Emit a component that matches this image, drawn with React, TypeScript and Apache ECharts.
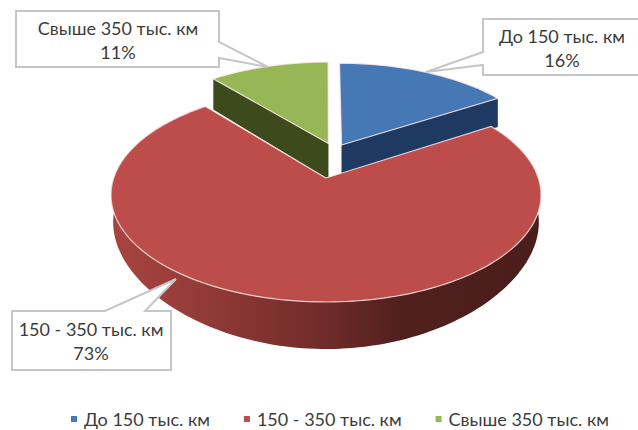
import React, { useEffect, useRef } from "react";
import * as echarts from "echarts";

// Пробег автомобилей: доли групп, %
const categories = ["До 150 тыс. км", "150 - 350 тыс. км", "Свыше 350 тыс. км"];
const shares = [16, 73, 11];
const topColors = ["#4678b6", "#bd4d4a", "#97b655"];
const cutColors = ["#1f3a62", "#5a2320", "#3d4a1c"];

// Верхняя и нижняя грани диска в перспективе
const TOP = { cx: 326, cy: 195, rx: 215, ry: 107, tilt: -0.159 };
const BOTTOM = { cy: 233.3, ry: 115.7, tilt: -0.25, shrink: 0.99 };
// Смещение выдвинутых секторов в единицах радиуса и подрезка их стенок
const explode = [
  { x: 0.077, y: -0.333, extra: 3 },
  { x: 0, y: 0, extra: 0 },
  { x: 0.012, y: -0.35, extra: 10 },
];

const projectTop = (X: number, Y: number): [number, number] => {
  const d = 1 + TOP.tilt * Y;
  return [
    TOP.cx + (TOP.rx * X * Math.sqrt(1 - TOP.tilt * TOP.tilt)) / d,
    TOP.cy + (TOP.ry * (Y + TOP.tilt)) / (1 + TOP.tilt * Y),
  ];
};
const projectBottom = (X: number, Y: number): [number, number] => {
  const [x] = projectTop(X, Y);
  return [
    TOP.cx + (x - TOP.cx) * BOTTOM.shrink,
    BOTTOM.cy + (BOTTOM.ry * (Y + BOTTOM.tilt)) / (1 + BOTTOM.tilt * Y),
  ];
};

const total = shares.reduce((a, b) => a + b, 0);
const startOf = (i: number) =>
  (shares.slice(0, i).reduce((a, b) => a + b, 0) / total) * Math.PI * 2;

const rimPoint = (i: number, angle: number): [number, number] => [
  Math.sin(angle) + explode[i].x,
  -Math.cos(angle) + explode[i].y,
];

const renderSlice = (i: number) => (_params: any, api: any) => {
  const sweep = (api.value(0) / total) * Math.PI * 2;
  const a0 = startOf(i);
  const steps = Math.max(12, Math.round(sweep * 40));
  const rim: [number, number][] = [];
  for (let k = 0; k <= steps; k++) rim.push(rimPoint(i, a0 + (sweep * k) / steps));
  const apex: [number, number] = [explode[i].x, explode[i].y];
  const children: any[] = [];

  if (i === 1) {
    // Наружная стенка большого сектора с затенением слева направо
    const upper = rim.map(([X, Y]) => projectTop(X, Y));
    const lower = rim.map(([X, Y]) => projectBottom(X, Y)).reverse();
    children.push({
      type: "polygon",
      shape: { points: [...upper, ...lower] },
      style: {
        fill: {
          type: "linear",
          x: 111,
          y: 0,
          x2: 541,
          y2: 0,
          global: true,
          colorStops: [
            { offset: 0, color: "#a9443f" },
            { offset: 0.22, color: "#923a37" },
            { offset: 0.5, color: "#6f2b29" },
            { offset: 0.68, color: "#50201d" },
            { offset: 1, color: "#4a1e1b" },
          ],
        },
      },
    });
  } else {
    // Срез выдвинутого сектора, обращённый к зрителю
    const edge = i === 0 ? rim[rim.length - 1] : rim[0];
    const pA = projectTop(apex[0], apex[1]);
    const pB = projectTop(edge[0], edge[1]);
    const qB = projectBottom(edge[0], edge[1]);
    const qA = projectBottom(apex[0], apex[1]);
    children.push({
      type: "polygon",
      shape: { points: [pA, pB, [pB[0], qB[1]], [pA[0], qA[1] + explode[i].extra]] },
      style: { fill: cutColors[i] },
    });
  }

  const topFace = [apex, ...rim].map(([X, Y]) => projectTop(X, Y));
  children.push({
    type: "polygon",
    shape: { points: topFace },
    style: { fill: topColors[i], stroke: "rgba(255,235,235,0.8)", lineWidth: 1.2 },
  });
  return { type: "group", children };
};

// Выноски: контур рамки с хвостиком и центр подписи
const callouts = [
  {
    cat: 2,
    textX: 118,
    textY: 40,
    points: [[16, 11], [219, 11], [219, 42], [268, 67], [219, 58], [219, 67], [16, 67]],
  },
  {
    cat: 0,
    textX: 562,
    textY: 48,
    points: [[483, 19], [642, 19], [642, 75], [483, 75], [483, 65], [426, 72], [483, 52]],
  },
  {
    cat: 1,
    textX: 91,
    textY: 341,
    points: [[12, 311], [105, 311], [176, 279], [145, 311], [171, 311], [171, 370], [12, 370]],
  },
];

const FONT = "Lato, 'Noto Sans', sans-serif";

export default function App() {
  const ref = useRef<HTMLDivElement>(null);

  useEffect(() => {
    document.body.style.margin = "0";
    const chart = echarts.init(ref.current!, undefined, { renderer: "svg" });
    chart.setOption({
      animation: false,
      backgroundColor: "#ffffff",
      legend: {
        data: categories,
        left: 71,
        top: 408,
        padding: 0,
        icon: "rect",
        itemWidth: 6,
        itemHeight: 6,
        itemGap: 34,
        itemStyle: { borderWidth: 0 },
        textStyle: {
          fontFamily: FONT,
          fontSize: 18,
          lineHeight: 22,
          color: "#3c3c3c",
          padding: [0, 0, 0, 2],
        },
      },
      series: categories.map((name, i) => ({
        type: "custom",
        name,
        coordinateSystem: "none",
        z: i === 1 ? 3 : 2,
        silent: true,
        itemStyle: { color: topColors[i] },
        data: [[shares[i]]],
        renderItem: renderSlice(i),
      })),
      graphic: callouts.flatMap((c) => [
        {
          type: "polygon",
          z: 10,
          shape: { points: c.points },
          style: { fill: "#ffffff", stroke: "#c4c6c8", lineWidth: 2 },
        },
        {
          type: "text",
          z: 11,
          x: c.textX,
          y: c.textY,
          style: {
            text: `${categories[c.cat]}\n${shares[c.cat]}%`,
            fontFamily: FONT,
            fontSize: 18,
            lineHeight: 24,
            fill: "#3c3c3c",
            align: "center",
            verticalAlign: "middle",
          },
        },
      ]),
    });
    return () => chart.dispose();
  }, []);

  return <div ref={ref} style={{ width: 638, height: 430 }} />;
}
